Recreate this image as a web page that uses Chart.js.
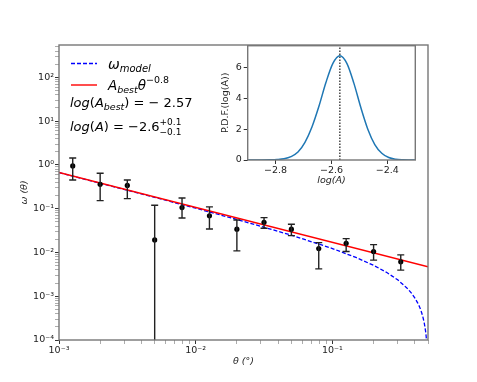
<!DOCTYPE html>
<html>
<head>
<meta charset="utf-8">
<script src="https://cdn.jsdelivr.net/npm/chart.js@4.4.1/dist/chart.umd.min.js"></script>
<style>
  html, body { margin: 0; padding: 0; background: #fff; }
  #wrap { position: relative; width: 477px; height: 382px; }
  #main { position: absolute; left: 0; top: 0; }
  #inset { position: absolute; left: 200px; top: 35px; }
</style>
</head>
<body>
<div id="wrap">
  <canvas id="main" width="477" height="382"></canvas>
  <canvas id="inset" width="225" height="160"></canvas>
</div>
<script>
// observed points + error bars
const thetaObs = [0.00126, 0.002, 0.00316, 0.00501, 0.00794, 0.0126, 0.02, 0.0316, 0.0501, 0.0794, 0.126, 0.2, 0.316];
const omegaObs = [0.95, 0.36, 0.34, 0.0193, 0.106, 0.069, 0.034, 0.049, 0.034, 0.0123, 0.0162, 0.0105, 0.0061];
const omegaHigh = [1.44, 0.646, 0.454, 0.12, 0.176, 0.11, 0.0553, 0.0626, 0.0443, 0.0168, 0.0207, 0.0151, 0.0088];
const omegaLow = [0.454, 0.153, 0.17, 1e-6, 0.0615, 0.0344, 0.0109, 0.0357, 0.0243, 0.00422, 0.0105, 0.00667, 0.00394];

// model curve (blue dashed)
const thetaModel = [0.001, 0.002, 0.005, 0.01, 0.02, 0.05, 0.1, 0.15, 0.2, 0.25, 0.3, 0.35, 0.38, 0.4, 0.42, 0.43, 0.44, 0.45, 0.46, 0.47, 0.48, 0.485, 0.49];
const omegaModel = [0.671, 0.383, 0.182, 0.1025, 0.0568, 0.0249, 0.0123, 0.00759, 0.00508, 0.00348, 0.00237, 0.00155, 0.00116, 0.00092, 0.000705, 0.000603, 0.000509, 0.000415, 0.000326, 0.00024, 0.000159, 0.000119, 0.000078];

// power-law fit (red)
const thetaFit = [0.001, 0.5];
const omegaFit = [0.676, 0.00469];

// inset: posterior of log(A)
const logAGrid = [-2.9, -2.85, -2.82, -2.795, -2.77, -2.745, -2.72, -2.695, -2.67, -2.645, -2.62, -2.595, -2.57, -2.545, -2.52, -2.495, -2.47, -2.445, -2.42, -2.395, -2.37, -2.345, -2.32, -2.3];
const pdfValues = [0, 0.001, 0.01, 0.03, 0.08, 0.22, 0.52, 1.15, 2.15, 3.5, 5.05, 6.3, 6.8, 6.3, 5.01, 3.42, 2.01, 1.01, 0.44, 0.16, 0.05, 0.014, 0.003, 0.001];
const bestLogA = -2.57;
const insetXTicks = [-2.8, -2.6, -2.4];
const insetYTicks = [0, 2, 4, 6];

const FONT = '"DejaVu Sans"';
Chart.defaults.font.family = FONT;
Chart.defaults.font.size = 9.5;
Chart.defaults.color = '#222';

const SUP = { '-': '⁻', '0': '⁰', '1': '¹', '2': '²', '3': '³', '4': '⁴', '5': '⁵' };
const powLabel = v => {
  const e = Math.round(Math.log10(v));
  return '10' + String(e).split('').map(c => SUP[c]).join('');
};

function logTicks(minExp, maxExp, maxVal) {
  const t = [];
  for (let e = minExp; e <= maxExp; e++) {
    for (let m = 1; m < 10; m++) {
      const v = m * Math.pow(10, e);
      if (v > maxVal * 1.0001) break;
      t.push({ value: v, major: m === 1 });
    }
  }
  return t;
}

const zip = (xs, ys) => xs.map((x, i) => ({ x, y: ys[i] }));

// frame around plot area
const frame = {
  id: 'frame',
  beforeDraw(chart, args, opts) {
    const a = chart.chartArea;
    if (opts.fill) {
      chart.ctx.save();
      chart.ctx.fillStyle = '#fff';
      chart.ctx.fillRect(a.left, a.top, a.right - a.left, a.bottom - a.top);
      chart.ctx.restore();
    }
  },
  afterDraw(chart) {
    const { ctx, chartArea: a } = chart;
    ctx.save();
    ctx.strokeStyle = '#777';
    ctx.lineWidth = 1.4;
    ctx.strokeRect(a.left, a.top, a.right - a.left, a.bottom - a.top);
    ctx.restore();
  }
};

const errorBars = {
  id: 'errorBars',
  afterDatasetsDraw(chart) {
    const { ctx, chartArea: a, scales: { x, y } } = chart;
    ctx.save();
    ctx.beginPath();
    ctx.rect(a.left, a.top, a.right - a.left, a.bottom - a.top);
    ctx.clip();
    ctx.strokeStyle = '#222';
    ctx.lineWidth = 1.4;
    thetaObs.forEach((t, i) => {
      const px = x.getPixelForValue(t);
      const hi = y.getPixelForValue(omegaHigh[i]);
      const lo = y.getPixelForValue(omegaLow[i]);
      ctx.beginPath();
      ctx.moveTo(px, hi); ctx.lineTo(px, lo);
      ctx.moveTo(px - 3.5, hi); ctx.lineTo(px + 3.5, hi);
      ctx.moveTo(px - 3.5, lo); ctx.lineTo(px + 3.5, lo);
      ctx.stroke();
    });
    ctx.restore();
  }
};

function drawParts(ctx, x, y, parts) {
  parts.forEach(p => {
    ctx.font = (p.it ? 'italic ' : '') + p.s + 'px ' + FONT;
    ctx.fillText(p.t, x, y + (p.dy || 0));
    if (!p.stay) x += ctx.measureText(p.t).width;
  });
  return x;
}

// legend + annotations
const notes = {
  id: 'notes',
  afterDraw(chart) {
    const ctx = chart.ctx;
    ctx.save();
    ctx.lineWidth = 1.4;
    ctx.strokeStyle = '#0000ff';
    ctx.setLineDash([4, 2]);
    ctx.beginPath(); ctx.moveTo(71, 63.5); ctx.lineTo(97, 63.5); ctx.stroke();
    ctx.setLineDash([]);
    ctx.strokeStyle = '#ff0000';
    ctx.beginPath(); ctx.moveTo(71, 85); ctx.lineTo(97, 85); ctx.stroke();

    ctx.fillStyle = '#000';
    ctx.textBaseline = 'alphabetic';
    drawParts(ctx, 108, 68.5, [
      { t: 'ω', it: true, s: 14 },
      { t: 'model', it: true, s: 10, dy: 3 }
    ]);
    drawParts(ctx, 108, 89.5, [
      { t: 'A', it: true, s: 13.5 },
      { t: 'best', it: true, s: 9.5, dy: 3 },
      { t: 'θ', it: true, s: 13.5 },
      { t: '−0.8', s: 9.5, dy: -6.5 }
    ]);
    drawParts(ctx, 70, 107, [
      { t: 'log', it: true, s: 13 },
      { t: '(', s: 13 },
      { t: 'A', it: true, s: 13 },
      { t: 'best', it: true, s: 9.5, dy: 3 },
      { t: ')', s: 13 },
      { t: ' = − 2.57', s: 13 }
    ]);
    drawParts(ctx, 70, 131, [
      { t: 'log', it: true, s: 13 },
      { t: '(', s: 13 },
      { t: 'A', it: true, s: 13 },
      { t: ')', s: 13 },
      { t: ' = −2.6', s: 13 },
      { t: '+0.1', s: 9, dy: -6, stay: true },
      { t: '−0.1', s: 9, dy: 4 }
    ]);
    ctx.restore();
  }
};

const logAxisCommon = {
  type: 'logarithmic',
  grid: {
    drawOnChartArea: false,
    drawTicks: true,
    tickLength: 4,
    tickColor: c => (c.tick && c.tick.major ? '#333' : '#888'),
    tickWidth: c => (c.tick && c.tick.major ? 1 : 0.7)
  },
  border: { display: false },
  ticks: {
    autoSkip: false,
    maxRotation: 0,
    padding: 1,
    color: '#222',
    callback: function (v, i, ticks) { return ticks[i].major ? powLabel(v) : ''; }
  }
};

new Chart(document.getElementById('main'), {
  type: 'line',
  data: {
    datasets: [
      {
        data: zip(thetaObs, omegaObs),
        showLine: false,
        pointRadius: 2.6,
        pointBackgroundColor: '#000',
        pointBorderWidth: 0
      },
      {
        data: zip(thetaFit, omegaFit),
        borderColor: '#ff0000',
        borderWidth: 1.5,
        pointRadius: 0
      },
      {
        data: zip(thetaModel, omegaModel),
        borderColor: '#0000ff',
        borderWidth: 1.3,
        borderDash: [4, 2],
        pointRadius: 0
      }
    ]
  },
  options: {
    responsive: false,
    animation: false,
    devicePixelRatio: 1,
    layout: { padding: { left: 0, right: 49, top: 45, bottom: 0 } },
    plugins: { legend: { display: false }, tooltip: { enabled: false }, frame: {} },
    scales: {
      x: {
        ...logAxisCommon,
        min: 0.001,
        max: 0.5,
        afterBuildTicks: s => { s.ticks = logTicks(-3, -1, 0.5); },
        afterFit: s => { s.height = 42; },
        title: { display: true, text: 'θ (°)', font: { size: 9.5, style: 'italic' }, padding: { top: 0, bottom: 15 } }
      },
      y: {
        ...logAxisCommon,
        min: 1e-4,
        max: 550,
        afterBuildTicks: s => { s.ticks = logTicks(-4, 2, 550); },
        afterFit: s => { s.width = 59; },
        title: { display: true, text: 'ω (θ)', font: { size: 9.5, style: 'italic' }, padding: { top: 19, bottom: 0 } }
      }
    }
  },
  plugins: [frame, errorBars, notes]
});

const minus = v => String(v).replace('-', '−');

new Chart(document.getElementById('inset'), {
  type: 'line',
  data: {
    datasets: [
      {
        data: zip(logAGrid, pdfValues),
        borderColor: '#1f77b4',
        borderWidth: 1.5,
        pointRadius: 0,
        cubicInterpolationMode: 'monotone'
      },
      {
        data: [{ x: bestLogA, y: 0 }, { x: bestLogA, y: 7.45 }],
        borderColor: '#000',
        borderWidth: 1.1,
        borderDash: [1.5, 1.5],
        pointRadius: 0
      }
    ]
  },
  options: {
    responsive: false,
    animation: false,
    devicePixelRatio: 1,
    layout: { padding: { left: 0, right: 9.7, top: 10.7, bottom: 0 } },
    plugins: { legend: { display: false }, tooltip: { enabled: false }, frame: { fill: true } },
    scales: {
      x: {
        type: 'linear',
        min: -2.9,
        max: -2.3,
        grid: { drawOnChartArea: false, tickLength: 4, tickColor: '#333' },
        border: { display: false },
        afterBuildTicks: s => { s.ticks = insetXTicks.map(value => ({ value })); },
        afterFit: s => { s.height = 35; },
        ticks: { padding: 1, maxRotation: 0, color: '#222', callback: v => minus(v) },
        title: { display: true, text: 'log(A)', font: { size: 9.5, style: 'italic' }, padding: { top: 0, bottom: 8.5 } }
      },
      y: {
        type: 'linear',
        min: 0,
        max: 7.45,
        grid: { drawOnChartArea: false, tickLength: 4, tickColor: '#333' },
        border: { display: false },
        afterBuildTicks: s => { s.ticks = insetYTicks.map(value => ({ value })); },
        afterFit: s => { s.width = 47.7; },
        ticks: { padding: 2, color: '#222', callback: v => String(v) },
        title: { display: true, text: 'P.D.F.(log(A))', font: { size: 9.5 }, padding: { top: 20, bottom: 0 } }
      }
    }
  },
  plugins: [frame]
});
</script>
</body>
</html>
